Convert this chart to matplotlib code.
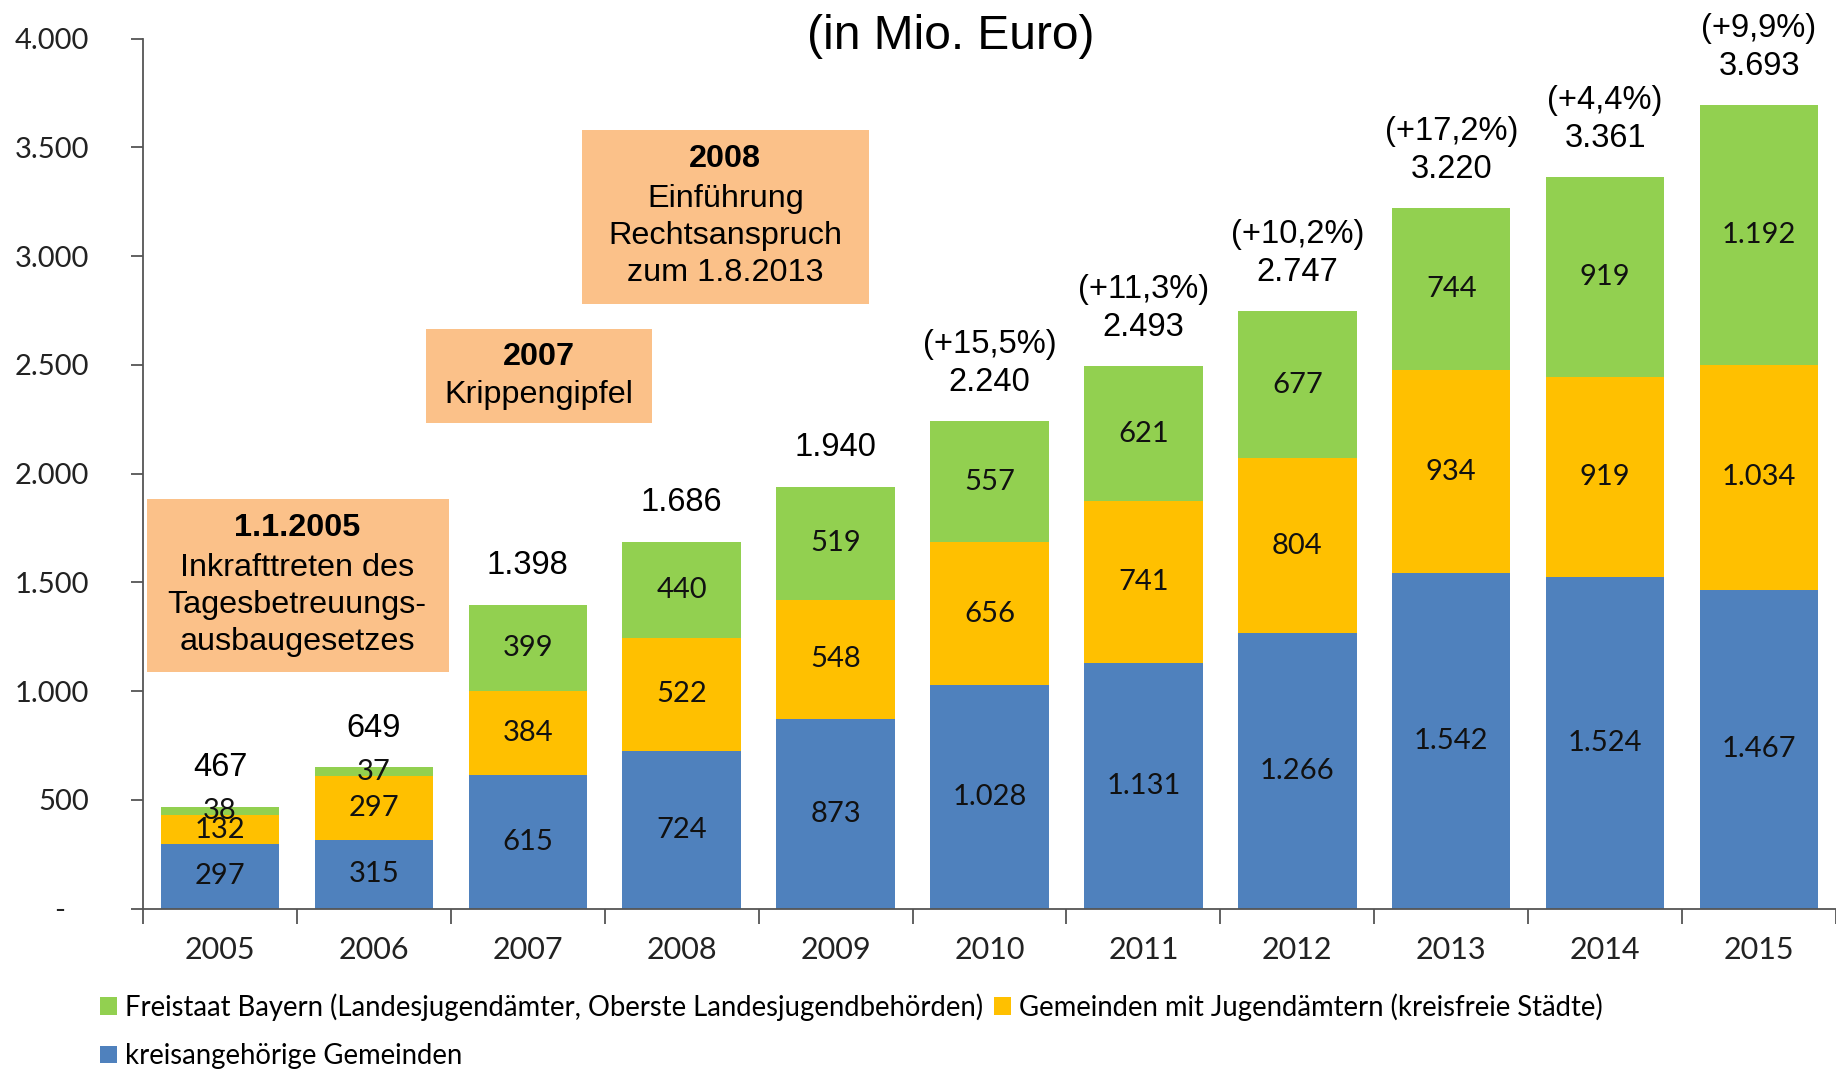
import matplotlib
matplotlib.use("Agg")
import matplotlib.pyplot as plt
from matplotlib.patches import Rectangle
from matplotlib.ticker import FixedLocator, FuncFormatter
import numpy as np

years = ["2005", "2006", "2007", "2008", "2009", "2010", "2011", "2012", "2013", "2014", "2015"]
kreisangehoerige = [297, 315, 615, 724, 873, 1028, 1131, 1266, 1542, 1524, 1467]
jugendaemter = [132, 297, 384, 522, 548, 656, 741, 804, 934, 919, 1034]
freistaat = [38, 37, 399, 440, 519, 557, 621, 677, 744, 919, 1192]
totals = [467, 649, 1398, 1686, 1940, 2240, 2493, 2747, 3220, 3361, 3693]
growth = ["", "", "", "", "", "(+15,5%)", "(+11,3%)", "(+10,2%)", "(+17,2%)", "(+4,4%)", "(+9,9%)"]

series_names = ["Freistaat Bayern (Landesjugendämter, Oberste Landesjugendbehörden)",
                "Gemeinden mit Jugendämtern (kreisfreie Städte)",
                "kreisangehörige Gemeinden"]
colors = {"green": "#92D050", "yellow": "#FFC000", "blue": "#4F81BD"}

calibri = ["Lato", "DejaVu Sans"]
arial = ["Liberation Sans", "DejaVu Sans"]

def de(v):
    return f"{v:,}".replace(",", ".")

fig = plt.figure(figsize=(18.36, 10.69), dpi=100)
ax = fig.add_axes([0.0779, 0.15, 0.9221, 0.8139])

x = np.arange(len(years))
w = 0.77
b1 = ax.bar(x, kreisangehoerige, w, color=colors["blue"], label=series_names[2])
bottom2 = np.array(kreisangehoerige)
b2 = ax.bar(x, jugendaemter, w, bottom=bottom2, color=colors["yellow"], label=series_names[1])
bottom3 = bottom2 + np.array(jugendaemter)
b3 = ax.bar(x, freistaat, w, bottom=bottom3, color=colors["green"], label=series_names[0])

# segment labels
for i in range(len(x)):
    for val, base in ((kreisangehoerige[i], 0), (jugendaemter[i], bottom2[i]), (freistaat[i], bottom3[i])):
        ax.text(x[i], base + val / 2, de(val), ha="center", va="center",
                fontsize=21, family=calibri, color="#111111")
    lab = de(totals[i]) if not growth[i] else growth[i] + "\n" + de(totals[i])
    ax.annotate(lab, (x[i], totals[i]), xytext=(0, 17), textcoords="offset points",
                ha="center", va="bottom", fontsize=23.5, family=arial, linespacing=1.28,
                annotation_clip=False)

ax.set_xlim(-0.5, 10.5)
ax.set_ylim(0, 4000)
for s in ("top", "right"):
    ax.spines[s].set_visible(False)
for s in ("left", "bottom"):
    ax.spines[s].set_color("#555555")
    ax.spines[s].set_linewidth(1.3)

ax.set_yticks(np.arange(0, 4001, 500))
ax.yaxis.set_major_formatter(FuncFormatter(lambda v, p: "-   " if v == 0 else de(int(v))))
ax.tick_params(axis="y", direction="out", length=9, width=1.3, color="#555555", pad=30,
               labelsize=21, labelcolor="#222222")
for t in ax.get_yticklabels():
    t.set_family(calibri)

ax.xaxis.set_major_locator(FixedLocator(np.arange(-0.5, 11, 1)))
ax.xaxis.set_major_formatter(FuncFormatter(lambda v, p: ""))
ax.xaxis.set_minor_locator(FixedLocator(x))
ax.xaxis.set_minor_formatter(FuncFormatter(lambda v, p: years[int(round(v))]))
ax.tick_params(axis="x", which="major", direction="out", length=11, width=1.3, color="#555555")
ax.tick_params(axis="x", which="minor", length=0, pad=20, labelsize=22, labelcolor="#222222")
for t in ax.get_xticklabels(minor=True):
    t.set_family(calibri)

# annotation boxes
box_fc = "#FBC189"
boxes = [
    ((-0.477, 1086), 1.962, 796, 0.5, 1484, ["1.1.2005", "Inkrafttreten des\nTagesbetreuungs-\nausbaugesetzes"]),
    ((1.34, 2231), 1.468, 436, 2.074, 2449, ["2007", "Krippengipfel"]),
    ((2.35, 2780), 1.865, 801, 3.283, 3180, ["2008", "Einführung\nRechtsanspruch\nzum 1.8.2013"]),
]
for (xy, bw, bh, cx, cy, lines) in boxes:
    ax.add_patch(Rectangle(xy, bw, bh, facecolor=box_fc, edgecolor="none", zorder=3))
    nlines = 1 + lines[1].count("\n") + 1
    step = 28
    ax.annotate(lines[0], (cx, cy), xytext=(0, (nlines - 1) * step / 2), textcoords="offset points",
                ha="center", va="center", fontsize=23.3, family=arial, fontweight="bold", zorder=4)
    ax.annotate(lines[1], (cx, cy), xytext=(0, -step / 2), textcoords="offset points",
                ha="center", va="center", fontsize=23.3, family=arial, linespacing=1.3, zorder=4)

fig.text(0.518, 0.966, "(in Mio. Euro)", ha="center", va="center", fontsize=34.5, family=arial)

handles = [b3, b1, b2]
labels = [series_names[0], series_names[2], series_names[1]]
leg = fig.legend(handles, labels, loc="upper left", bbox_to_anchor=(0.0547, 0.071), ncol=2,
                 frameon=False, handlelength=0.6, handleheight=0.6,
                 handletextpad=0.3, columnspacing=0.4, labelspacing=0.82, borderpad=0,
                 borderaxespad=0, prop={"family": calibri, "size": 19.8})

fig.savefig("out.png", dpi=100)
